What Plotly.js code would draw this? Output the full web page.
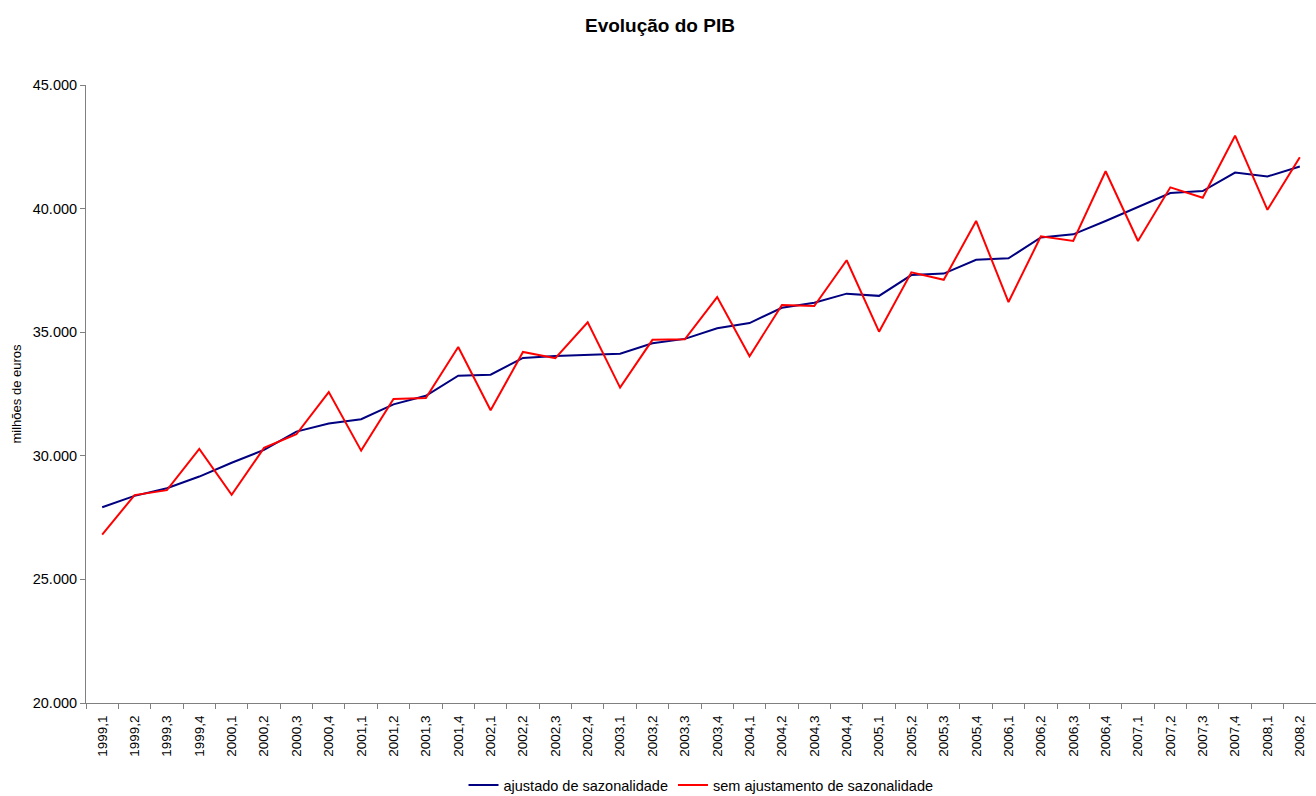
<!DOCTYPE html>
<html>
<head>
<meta charset="utf-8">
<script src="https://cdn.plot.ly/plotly-3.0.1.min.js"></script>
<style>html,body{margin:0;padding:0;background:#fff;}#chart{width:1316px;height:796px;}</style>
</head>
<body>
<div id="chart"></div>
<script>
const categories = ["1999,1","1999,2","1999,3","1999,4","2000,1","2000,2","2000,3","2000,4",
  "2001,1","2001,2","2001,3","2001,4","2002,1","2002,2","2002,3","2002,4",
  "2003,1","2003,2","2003,3","2003,4","2004,1","2004,2","2004,3","2004,4",
  "2005,1","2005,2","2005,3","2005,4","2006,1","2006,2","2006,3","2006,4",
  "2007,1","2007,2","2007,3","2007,4","2008,1","2008,2"];
const ajustado = [27920,28380,28690,29160,29720,30240,30980,31310,
  31480,32080,32430,33240,33280,33960,34040,34090,
  34130,34550,34730,35160,35370,35990,36190,36560,
  36470,37310,37370,37930,37990,38830,38960,39500,
  40050,40630,40710,41460,41300,41700];
const semAjustamento = [26810,28410,28610,30280,28420,30320,30870,32580,
  30210,32300,32340,34400,31840,34200,33950,35400,
  32760,34690,34710,36420,34030,36100,36060,37910,
  35020,37420,37120,39500,36220,38880,38690,41510,
  38690,40860,40440,42950,39950,42080];

const traces = [
  {x: categories, y: ajustado, type: 'scatter', mode: 'lines', name: 'ajustado de sazonalidade',
   line: {color: '#000080', width: 2}},
  {x: categories, y: semAjustamento, type: 'scatter', mode: 'lines', name: 'sem ajustamento de sazonalidade',
   line: {color: '#FF0000', width: 2}}
];

const layout = {
  width: 1316, height: 796,
  margin: {l: 86, r: 0, t: 85, b: 93},
  paper_bgcolor: '#ffffff', plot_bgcolor: '#ffffff',
  separators: ',.',
  font: {family: 'Liberation Sans, Arial, sans-serif', size: 13, color: '#000'},
  title: {text: '<b>Evolução do PIB</b>', font: {size: 19, family: 'Liberation Sans, Arial, sans-serif'},
          x: 0.5015, xref: 'container', y: 1 - 25/796, yref: 'container', yanchor: 'middle'},
  xaxis: {type: 'category', range: [-0.5, 37.5], tickangle: -90, showgrid: false, zeroline: false,
          automargin: false, ticklabelstandoff: 6,
          showline: true, linecolor: '#808080', linewidth: 1,
          ticks: 'outside', tickson: 'boundaries', ticklen: 5, tickcolor: '#808080',
          tickfont: {size: 13.5}},
  yaxis: {range: [20000, 45000], dtick: 5000, tick0: 20000, tickformat: ',.0f', showgrid: false,
          automargin: false,
          zeroline: false, showline: true, linecolor: '#808080', linewidth: 1,
          ticks: 'outside', ticklen: 5, tickcolor: '#808080', tickfont: {size: 14.5},
          title: {text: 'milhões de euros', font: {size: 13}, standoff: 8}},
  showlegend: true,
  legend: {orientation: 'h', x: 0.5, xanchor: 'center', xref: 'paper',
           y: 11/796, yref: 'container', yanchor: 'middle',
           font: {size: 14.5}, traceorder: 'normal', itemwidth: 30}
};

Plotly.newPlot('chart', traces, layout, {displayModeBar: false, staticPlot: true});
</script>
</body>
</html>
